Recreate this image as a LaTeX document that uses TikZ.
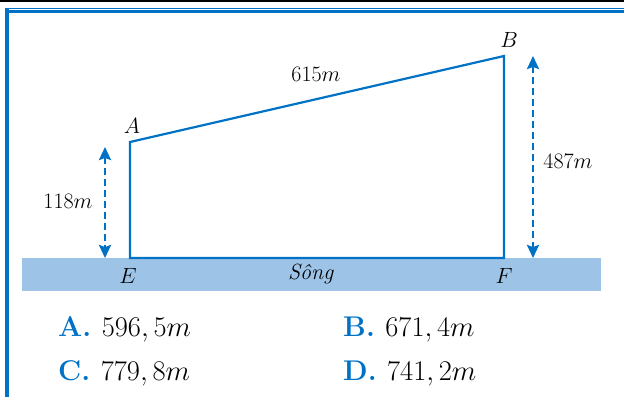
\RequirePackage{fix-cm}
\documentclass[tikz,border=0pt]{standalone}
\usetikzlibrary{arrows.meta}
\definecolor{mainblue}{RGB}{0,114,198}
\definecolor{riverblue}{RGB}{157,195,230}
\begin{document}
\begin{tikzpicture}[x=1pt,y=-1pt,
  edge/.style={draw=mainblue,line width=2.2pt,line join=miter},
  dimarrow/.style={draw=mainblue,line width=2.4pt,dash pattern=on 7pt off 4pt,
    {Stealth[width=12pt,length=13pt,inset=2pt]}-{Stealth[width=12pt,length=13pt,inset=2pt]}},
  lab/.style={font=\fontsize{22}{26}\selectfont,inner sep=0pt},
  ans/.style={font=\fontsize{28.5}{33}\selectfont,inner sep=0pt,anchor=base west},
  frame/.style={fill=mainblue,draw=none}]
\useasboundingbox (0,0) rectangle (624,397);
% frame
\fill[black] (0,0) rectangle (624,2);
\fill[frame] (5,7.6) rectangle (624,8.8);
\fill[frame] (5,10) rectangle (624,12.6);
\fill[frame] (5,7.6) rectangle (8.7,397);
% river
\fill[riverblue] (22,258) rectangle (601,291);
% points
\coordinate (A) at (130,142);
\coordinate (B) at (504,56);
\coordinate (F) at (504,258);
\coordinate (E) at (130,258);
\draw[edge] (A) -- (B) -- (F) -- (E) -- cycle;
% dimension arrows
\coordinate (L1) at (105,147);
\coordinate (L2) at (105,258);
\coordinate (R1) at (533,56);
\coordinate (R2) at (533,258);
\draw[dimarrow] (L1) -- (L2);
\draw[dimarrow] (R1) -- (R2);
% labels
\node[lab] (lA) at (132,126) {$A$};
\node[lab] (lB) at (509,40) {$B$};
\node[lab] (lE) at (128,276) {$E$};
\node[lab] (lF) at (504,276) {$F$};
\node[lab] (lS) at (311,274) {\textit{Sông}};
\node[lab] (l615) at (316,74) {$615m$};
\node[lab] (l118) at (68,201) {$118m$};
\node[lab] (l487) at (568,161) {$487m$};
% answers
\node[ans] (aA) at (58,336) {\textcolor{mainblue}{\textbf{A.}}\hspace{10.5pt}$596,5m$};
\node[ans] (aB) at (343,336) {\textcolor{mainblue}{\textbf{B.}}\hspace{10.5pt}$671,4m$};
\node[ans] (aC) at (58,380) {\textcolor{mainblue}{\textbf{C.}}\hspace{10.5pt}$779,8m$};
\node[ans] (aD) at (343,380) {\textcolor{mainblue}{\textbf{D.}}\hspace{10.5pt}$741,2m$};
\end{tikzpicture}
\end{document}
